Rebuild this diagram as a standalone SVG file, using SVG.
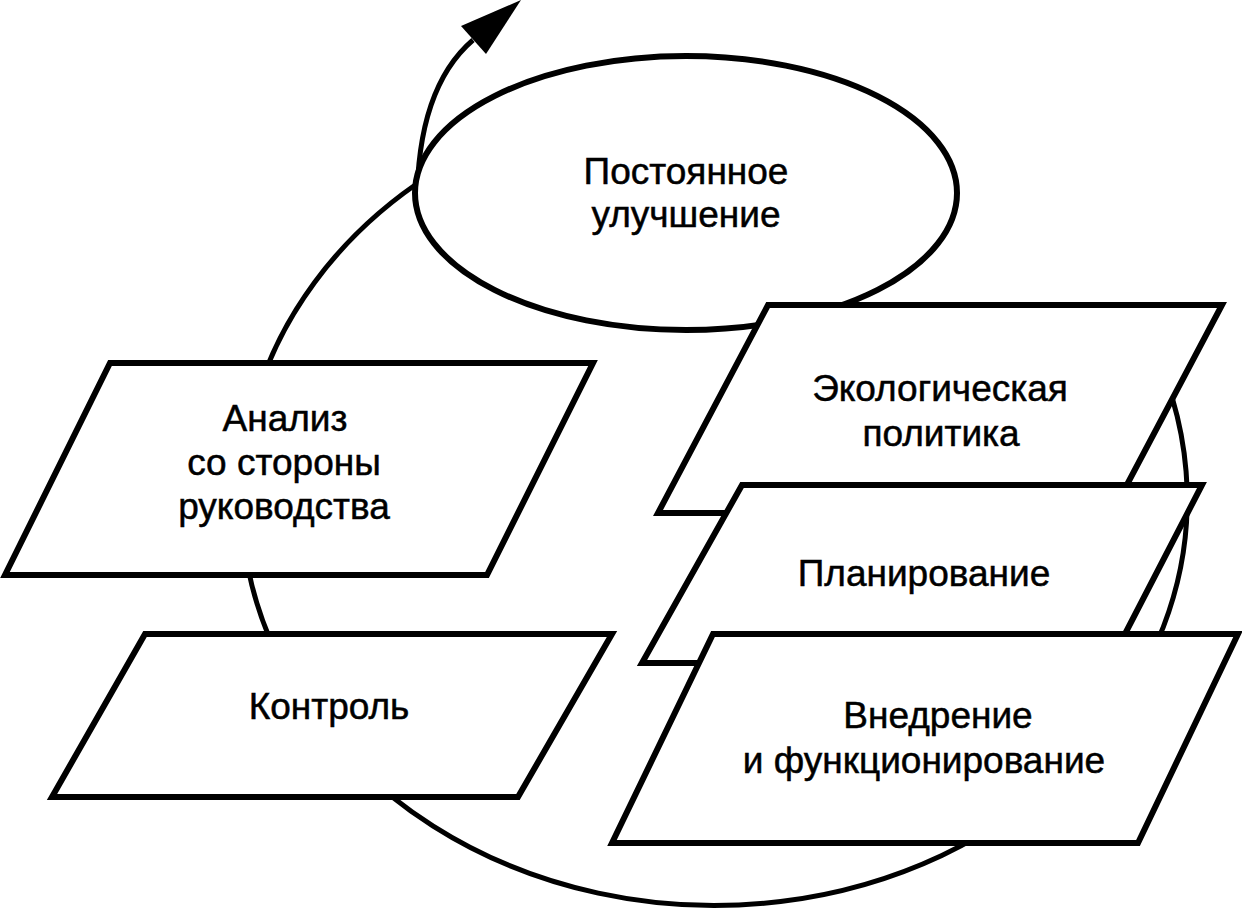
<svg xmlns="http://www.w3.org/2000/svg" width="1242" height="910" viewBox="0 0 1242 910">
<style>
.shape{fill:#fff;stroke:#000;stroke-width:6;stroke-linejoin:miter}
.line{fill:none;stroke:#000;stroke-width:5}
text{font-family:"Liberation Sans",Arial,sans-serif;font-size:37px;fill:#000;stroke:#000;stroke-width:0.5;text-anchor:middle}
</style>
<rect width="1242" height="910" fill="#fff"/>
<g id="connectors">
<path class="line" d="M1144,330 A473,406 0 1 1 430,175"/>
<path class="line" d="M417,205 Q417,88 473,40"/>
<polygon points="521,0 461,26 486,54" fill="#000"/>
</g>
<g id="node-improvement">
<ellipse class="shape" cx="686" cy="193" rx="271" ry="137"/>
<text x="686" y="184">Постоянное</text>
<text x="686" y="227">улучшение</text>
</g>
<g id="node-analysis">
<polygon class="shape" points="110,363 593,363 487,575 5,575"/>
<text x="285" y="431">Анализ</text>
<text x="284" y="475">со стороны</text>
<text x="284" y="519">руководства</text>
</g>
<g id="node-control">
<polygon class="shape" points="145,634 612,634 518,797 52,797"/>
<text x="329" y="719">Контроль</text>
</g>
<g id="node-policy">
<polygon class="shape" points="768,305 1222,305 1112,513 658,513"/>
<text x="940" y="401">Экологическая</text>
<text x="941" y="446">политика</text>
</g>
<g id="node-planning">
<polygon class="shape" points="742,485 1202,485 1110,663 642,663"/>
<text x="924" y="586">Планирование</text>
</g>
<g id="node-implementation">
<polygon class="shape" points="713,634 1238,634 1138,843 612,843"/>
<text x="938" y="728">Внедрение</text>
<text x="924" y="773">и функционирование</text>
</g>
</svg>
